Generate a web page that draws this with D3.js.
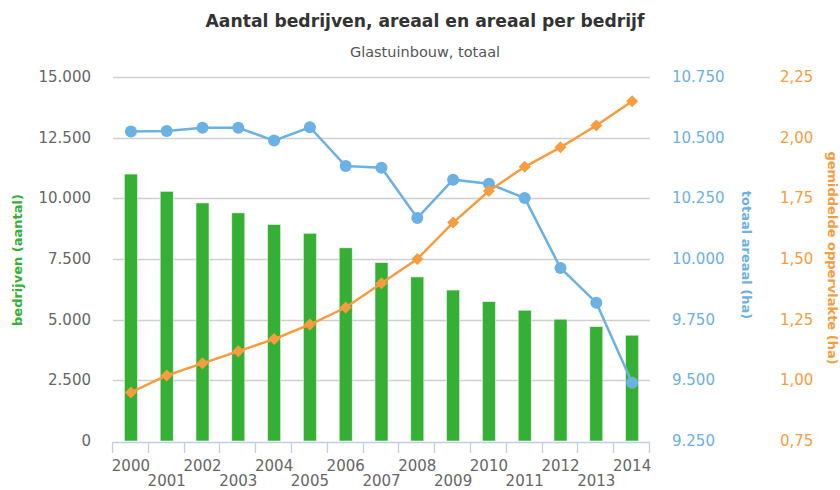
<!DOCTYPE html>
<html>
<head>
<meta charset="utf-8">
<script src="https://cdn.jsdelivr.net/npm/d3@7"></script>
<style>
  body { margin: 0; background: #fff; }
  svg { font-family: "DejaVu Sans", Verdana, sans-serif; }
</style>
</head>
<body>
<svg width="840" height="490"></svg>
<script>
// data
var years = ["2000","2001","2002","2003","2004","2005","2006","2007","2008","2009","2010","2011","2012","2013","2014"];
var bedrijven = [11000, 10290, 9810, 9400, 8920, 8560, 7960, 7350, 6760, 6220, 5740, 5390, 5020, 4710, 4360];
var areaal = [10525, 10527, 10541, 10541, 10488, 10543, 10383, 10376, 10169, 10327, 10310, 10251, 9963, 9820, 9490];
var perBedrijf = [0.95, 1.02, 1.07, 1.12, 1.17, 1.23, 1.30, 1.40, 1.50, 1.65, 1.78, 1.88, 1.96, 2.05, 2.15];

var leftTicks = [0, 2500, 5000, 7500, 10000, 12500, 15000];
var midTicks = [9250, 9500, 9750, 10000, 10250, 10500, 10750];
var rightTicks = [0.75, 1.00, 1.25, 1.50, 1.75, 2.00, 2.25];

var svg = d3.select("svg");
var plot = {left: 113, right: 650, top: 77, bottom: 441};

var green = "#35b035", blue = "#6cb1e3", orange = "#f89c3f";

// scales
var x = d3.scaleBand().domain(years).range([plot.left, plot.right]);
var yL = d3.scaleLinear().domain([0, 15000]).range([plot.bottom, plot.top]);
var yM = d3.scaleLinear().domain([9250, 10750]).range([plot.bottom, plot.top]);
var yR = d3.scaleLinear().domain([0.75, 2.25]).range([plot.bottom, plot.top]);

var fmtNL = function(v) { return d3.format(",")(v).replace(/,/g, "."); };
var fmtDec = function(v) { return d3.format(".2f")(v).replace(".", ","); };

// titels
svg.append("text").attr("x", 425).attr("y", 27).attr("text-anchor", "middle")
  .attr("font-size", 17.2).attr("font-weight", "bold").attr("fill", "#333")
  .text("Aantal bedrijven, areaal en areaal per bedrijf");
svg.append("text").attr("x", 425).attr("y", 57).attr("text-anchor", "middle")
  .attr("font-size", 14.5).attr("fill", "#555")
  .text("Glastuinbouw, totaal");

// gridlijnen
svg.append("g").selectAll("line").data(leftTicks.slice(1)).enter().append("line")
  .attr("x1", plot.left).attr("x2", plot.right)
  .attr("y1", function(d) { return Math.round(yL(d)) + 0.5; })
  .attr("y2", function(d) { return Math.round(yL(d)) + 0.5; })
  .attr("stroke", "#d0d0d0").attr("stroke-width", 1.3);

// linker as
svg.append("g").selectAll("text").data(leftTicks).enter().append("text")
  .attr("x", 91).attr("y", function(d) { return yL(d) + 5; })
  .attr("text-anchor", "end").attr("font-size", 15).attr("fill", "#666")
  .text(fmtNL);
svg.append("text").attr("transform", "translate(22,260) rotate(-90)")
  .attr("text-anchor", "middle").attr("font-size", 13).attr("font-weight", "bold")
  .attr("fill", green).text("bedrijven (aantal)");

// rechter assen
svg.append("g").selectAll("text").data(midTicks).enter().append("text")
  .attr("x", 672).attr("y", function(d) { return yM(d) + 5; })
  .attr("font-size", 15).attr("fill", blue).text(fmtNL);
svg.append("text").attr("transform", "translate(742,255) rotate(90)")
  .attr("text-anchor", "middle").attr("font-size", 13).attr("font-weight", "bold")
  .attr("fill", blue).text("totaal areaal (ha)");

svg.append("g").selectAll("text").data(rightTicks).enter().append("text")
  .attr("x", 780).attr("y", function(d) { return yR(d) + 5; })
  .attr("font-size", 15).attr("fill", orange).text(fmtDec);
svg.append("text").attr("transform", "translate(828,258) rotate(90)")
  .attr("text-anchor", "middle").attr("font-size", 13).attr("font-weight", "bold")
  .attr("fill", orange).text("gemiddelde oppervlakte (ha)");

// staven
svg.append("g").selectAll("rect").data(bedrijven).enter().append("rect")
  .attr("x", function(d, i) { return x(years[i]) + x.bandwidth() / 2 - 6.5; })
  .attr("width", 13)
  .attr("y", function(d) { return yL(d); })
  .attr("height", function(d) { return yL(0) - yL(d); })
  .attr("fill", green).attr("stroke", "#e8f5e8").attr("stroke-width", 0.6);

// x-as
var xAxis = svg.append("g");
xAxis.append("line").attr("x1", plot.left).attr("x2", plot.right)
  .attr("y1", plot.bottom + 1.5).attr("y2", plot.bottom + 1.5)
  .attr("stroke", "#c0d0e0").attr("stroke-width", 1.5);
var tickPos = years.map(function(y) { return x(y); }).concat([plot.right]);
xAxis.selectAll("line.tick").data(tickPos).enter().append("line")
  .attr("class", "tick")
  .attr("x1", function(d) { return Math.round(d) - 0.5; })
  .attr("x2", function(d) { return Math.round(d) - 0.5; })
  .attr("y1", plot.bottom + 1).attr("y2", plot.bottom + 12)
  .attr("stroke", "#c0d0e0").attr("stroke-width", 1.3);
xAxis.selectAll("text").data(years).enter().append("text")
  .attr("x", function(d) { return x(d) + x.bandwidth() / 2; })
  .attr("y", function(d, i) { return i % 2 === 0 ? 471 : 486; })
  .attr("text-anchor", "middle").attr("font-size", 15).attr("fill", "#666")
  .text(function(d) { return d; });

var cx = function(i) { return x(years[i]) + x.bandwidth() / 2; };

// totaal areaal
svg.append("path").datum(areaal)
  .attr("fill", "none").attr("stroke", blue).attr("stroke-width", 2.5)
  .attr("d", d3.line().x(function(d, i) { return cx(i); }).y(function(d) { return yM(d); }));
svg.append("g").selectAll("circle").data(areaal).enter().append("circle")
  .attr("cx", function(d, i) { return cx(i); }).attr("cy", function(d) { return yM(d); })
  .attr("r", 6).attr("fill", blue);

// gemiddelde oppervlakte
svg.append("path").datum(perBedrijf)
  .attr("fill", "none").attr("stroke", orange).attr("stroke-width", 2.5)
  .attr("d", d3.line().x(function(d, i) { return cx(i); }).y(function(d) { return yR(d); }));
svg.append("g").selectAll("path").data(perBedrijf).enter().append("path")
  .attr("transform", function(d, i) { return "translate(" + cx(i) + "," + yR(d) + ")"; })
  .attr("d", "M0,-6L6,0L0,6L-6,0Z").attr("fill", orange);
</script>
</body>
</html>
